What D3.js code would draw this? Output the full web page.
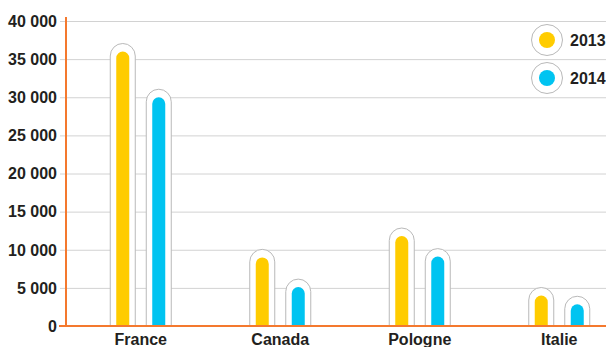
<!DOCTYPE html>
<html>
<head>
<meta charset="utf-8">
<script src="https://cdn.jsdelivr.net/npm/d3@7/dist/d3.min.js"></script>
<style>
  html, body { margin: 0; padding: 0; background: #fff; }
  svg { display: block; }
  text { font-family: "Liberation Sans Narrow", "Arial Narrow", "Liberation Sans", sans-serif; font-weight: bold; fill: #231f20; }
</style>
</head>
<body>
<svg id="chart" width="606" height="347"></svg>
<script>
// Categories and series
const countries = ["France", "Canada", "Pologne", "Italie"];
const years = ["2013", "2014"];
const values2013 = [36000, 9000, 11800, 4000];
const values2014 = [30000, 5100, 9100, 2850];
const yTicks = [0, 5000, 10000, 15000, 20000, 25000, 30000, 35000, 40000];
const seriesColors = ["#ffcc00", "#00c4f1"];

const W = 606, H = 347;
const axisX = 66, baseY = 326, topY = 21;
const orange = "#f4792e";
const grid = "#d2d2d2";

const svg = d3.select("#chart");

const y = d3.scaleLinear().domain([0, 40000]).range([baseY, topY]);
const x = d3.scaleBand().domain(countries).range([71, 629]);
const sub = d3.scalePoint().domain(years).range([-18, 18]);

const fmt = v => d3.format(",")(v).replace(/,/g, " ");

// Gridlines with short ticks left of the axis
svg.append("g").selectAll("line").data(yTicks.filter(d => d > 0)).join("line")
  .attr("x1", axisX - 6).attr("x2", W)
  .attr("y1", d => y(d) + 0.5).attr("y2", d => y(d) + 0.5)
  .attr("stroke", grid).attr("stroke-width", 1);

// Tick labels
svg.append("g").selectAll("text").data(yTicks).join("text")
  .attr("x", 57).attr("y", d => y(d))
  .attr("dy", "0.36em")
  .attr("text-anchor", "end")
  .attr("font-size", 16)
  .text(fmt);

// Bars: capsule outline + rounded-top coloured bar
const barW = 13, shellW = 25, shellPad = 8;
function capsule(cx, top, w) {
  const r = w / 2;
  return `M${cx - r},${baseY} L${cx - r},${top + r} A${r},${r} 0 0 1 ${cx + r},${top + r} L${cx + r},${baseY}`;
}
const rows = [];
countries.forEach((c, i) => {
  rows.push({ c, s: 0, v: values2013[i] });
  rows.push({ c, s: 1, v: values2014[i] });
});
const bars = svg.append("g").selectAll("g").data(rows).join("g");
bars.append("path")
  .attr("d", d => {
    const cx = x(d.c) + x.bandwidth() / 2 + sub(years[d.s]);
    return capsule(cx, y(d.v) - shellPad, shellW) ;
  })
  .attr("fill", "#fff").attr("stroke", "#b9b9b9").attr("stroke-width", 1);
bars.append("path")
  .attr("d", d => {
    const cx = x(d.c) + x.bandwidth() / 2 + sub(years[d.s]);
    return capsule(cx, y(d.v), barW) + "Z";
  })
  .attr("fill", d => seriesColors[d.s]);

// Axis lines
svg.append("line").attr("x1", axisX).attr("x2", axisX).attr("y1", 17).attr("y2", baseY)
  .attr("stroke", orange).attr("stroke-width", 2);
svg.append("line").attr("x1", axisX - 7).attr("x2", W).attr("y1", baseY).attr("y2", baseY)
  .attr("stroke", orange).attr("stroke-width", 2);

// Category labels
svg.append("g").selectAll("text").data(countries).join("text")
  .attr("x", d => x(d) + x.bandwidth() / 2)
  .attr("y", 345)
  .attr("text-anchor", "middle")
  .attr("font-size", 16)
  .text(d => d);

// Legend
const legend = svg.append("g").selectAll("g").data(years).join("g")
  .attr("transform", (d, i) => `translate(547,${40 + i * 38})`);
legend.append("circle").attr("r", 15.5).attr("fill", "#fff").attr("stroke", "#b9b9b9");
legend.append("circle").attr("r", 8).attr("fill", (d, i) => seriesColors[i]);
legend.append("text").attr("x", 23).attr("dy", "0.36em").attr("font-size", 16).text(d => d);
</script>
</body>
</html>
